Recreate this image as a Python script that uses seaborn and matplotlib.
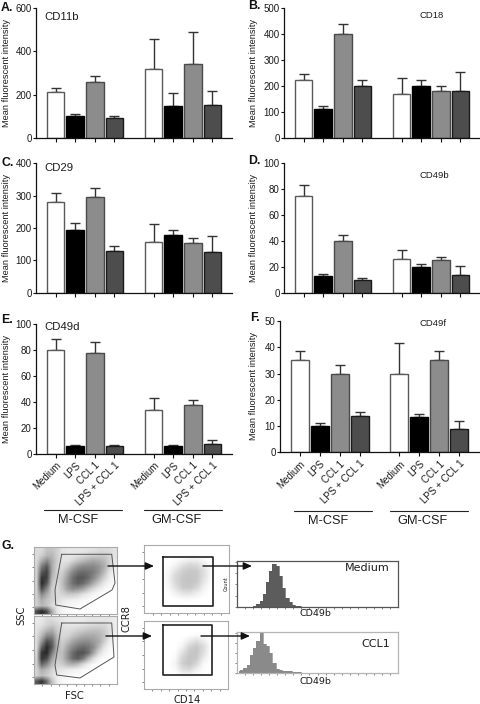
import numpy as np
import pandas as pd
import matplotlib
matplotlib.use("Agg")
import matplotlib.pyplot as plt
from matplotlib.colors import LinearSegmentedColormap
import seaborn as sns

sns.set_style("ticks")
plt.rcParams['font.family'] = ['Liberation Sans', 'DejaVu Sans']

# ---------- data ----------
treatments = ["Medium", "LPS", "CCL 1", "LPS + CCL 1"]
positions = [0, 1, 2, 3, 5, 6, 7, 8]
cd11b_mean = [210, 100, 260, 90, 320, 145, 343, 150]
cd11b_top = [232, 112, 287, 100, 458, 207, 490, 218]
cd18_mean = [222, 110, 400, 200, 167, 200, 180, 180]
cd18_top = [245, 122, 440, 222, 230, 222, 200, 252]
cd29_mean = [280, 195, 295, 130, 158, 177, 155, 125]
cd29_top = [308, 215, 325, 143, 213, 193, 170, 174]
cd49b_mean = [75, 13, 40, 10, 26, 20, 25, 14]
cd49b_top = [83, 14.5, 44.5, 11, 33, 22.3, 27.5, 21]
cd49d_mean = [80, 6, 78, 6, 34, 6.5, 38, 7.5]
cd49d_top = [88.5, 6.8, 86, 6.8, 43.5, 6.8, 42, 11]
cd49f_mean = [35, 10, 30, 14, 29.7, 13.3, 35, 9]
cd49f_top = [38.7, 11, 33.2, 15.5, 41.8, 14.4, 38.7, 12]

fsc_ssc_medium = [
 [.15,.15,.25,.25,.20,.12,.10,.10,.10,.10,.12,.12,.15,.15,.15,.12],
 [.15,.20,.30,.30,.20,.12,.10,.10,.12,.15,.18,.20,.22,.22,.18,.12],
 [.15,.35,.50,.35,.20,.12,.12,.18,.25,.30,.35,.38,.35,.30,.20,.10],
 [.18,.55,.70,.35,.18,.15,.22,.35,.45,.50,.50,.50,.45,.35,.20,.08],
 [.20,.70,.80,.35,.18,.20,.35,.50,.60,.62,.60,.55,.45,.30,.12,.05],
 [.20,.85,.80,.30,.18,.25,.42,.60,.70,.70,.62,.50,.35,.20,.08,.03],
 [.20,.90,.70,.25,.15,.28,.45,.60,.68,.62,.50,.35,.22,.10,.04,.02],
 [.20,.75,.50,.20,.15,.25,.40,.48,.45,.38,.25,.15,.08,.04,.02,.01],
 [.20,.50,.35,.20,.15,.18,.22,.22,.18,.12,.08,.04,.02,.01,.00,.00],
 [.20,.35,.25,.20,.15,.10,.08,.06,.05,.03,.02,.01,.00,.00,.00,.00],
 [.20,.30,.25,.15,.10,.06,.04,.03,.02,.01,.00,.00,.00,.00,.00,.00],
 [.75,.90,.75,.35,.10,.04,.02,.01,.00,.00,.00,.00,.00,.00,.00,.00]]
fsc_ssc_ccl1 = [
 [.08,.10,.15,.15,.12,.10,.08,.08,.08,.08,.10,.10,.10,.10,.10,.08],
 [.10,.12,.18,.22,.18,.12,.10,.10,.10,.12,.14,.15,.16,.16,.12,.08],
 [.12,.20,.30,.35,.22,.15,.14,.16,.20,.22,.25,.26,.26,.22,.15,.08],
 [.14,.30,.50,.50,.28,.16,.18,.25,.30,.35,.36,.36,.32,.25,.14,.05],
 [.15,.45,.75,.65,.30,.20,.28,.38,.45,.48,.48,.42,.36,.22,.08,.03],
 [.15,.65,.90,.70,.30,.24,.38,.50,.58,.62,.58,.48,.30,.12,.04,.02],
 [.18,.85,.90,.55,.26,.28,.45,.62,.72,.72,.62,.38,.16,.06,.02,.01],
 [.20,.85,.75,.40,.22,.28,.45,.62,.68,.55,.32,.14,.05,.02,.01,.00],
 [.20,.65,.50,.28,.18,.22,.30,.34,.28,.16,.07,.03,.01,.00,.00,.00],
 [.18,.35,.28,.18,.12,.10,.08,.06,.05,.03,.01,.00,.00,.00,.00,.00],
 [.18,.28,.22,.14,.08,.05,.03,.02,.01,.00,.00,.00,.00,.00,.00,.00],
 [.70,.85,.60,.25,.08,.03,.02,.01,.00,.00,.00,.00,.00,.00,.00,.00]]
ccr8_medium = [
 [0,0,0,0,0,0,0,0,0,0,0,0],
 [0,0,0,0,0,0,0,0,0,0,0,0],
 [0,0,0,0,.01,.03,.05,.05,.02,0,0,0],
 [0,0,0,.01,.05,.12,.17,.15,.08,.01,0,0],
 [0,0,0,.03,.12,.20,.23,.22,.13,.02,0,0],
 [0,0,0,.05,.17,.23,.25,.23,.13,.02,0,0],
 [0,0,0,.05,.17,.24,.25,.22,.10,.01,0,0],
 [0,0,0,.03,.13,.22,.23,.17,.05,0,0,0],
 [0,0,0,.01,.06,.12,.12,.07,.02,0,0,0],
 [0,0,0,0,.01,.02,.02,.01,0,0,0,0],
 [0,0,0,0,0,0,0,0,0,0,0,0],
 [0,0,0,0,0,0,0,0,0,0,0,0]]
ccr8_ccl1 = [
 [0,0,0,0,0,0,0,0,0,0,0,0],
 [0,0,0,0,0,0,0,0,0,0,0,0],
 [0,0,0,0,0,0,.01,.02,.01,0,0,0],
 [0,0,0,0,0,.01,.08,.14,.08,.01,0,0],
 [0,0,0,0,0,.05,.18,.23,.15,.02,0,0],
 [0,0,0,0,.01,.12,.23,.25,.14,.01,0,0],
 [0,0,0,0,.03,.18,.25,.23,.09,0,0,0],
 [0,0,0,0,.05,.20,.25,.17,.03,0,0,0],
 [0,0,0,0,.03,.14,.17,.07,.01,0,0,0],
 [0,0,0,0,0,.03,.03,.01,0,0,0,0],
 [0,0,0,0,0,0,0,0,0,0,0,0],
 [0,0,0,0,0,0,0,0,0,0,0,0]]
hist_bins = [i * 0.02 + 0.01 for i in range(26)]
hist_medium = [0, 0, 0, .005, .01, .03, .06, .13, .29, .55, .80, .95, .90, .68, .43, .20, .10, .05, .03, .02, .01, .005, 0, 0, 0, 0]
hist_ccl1 = [.04, .08, .12, .20, .45, .62, .80, 1.0, .72, .68, .50, .25, .11, .08, .05, .045, .04, .03, .02, .015, .01, .01, .01, .005, .005, .005]

bar_colors = ["#ffffff", "#000000", "#8c8c8c", "#4d4d4d"]
edge_colors = ["#5a5a5a", "#000000", "#4a4a4a", "#1a1a1a"]
cmap_dots = LinearSegmentedColormap.from_list("dots", ["#ffffff", "#111111"])

# ---------- layout helpers ----------
W, H = 480, 704
fig = plt.figure(figsize=(W / 100, H / 100), dpi=100)
TXT = "#1c1c1c"


def axes_px(x0, y0, x1, y1):
    """Axes from pixel box (y measured from the top)."""
    return fig.add_axes([x0 / W, 1 - y1 / H, (x1 - x0) / W, (y1 - y0) / H])


def bar_panel(box, mean, top, ymax, step, show_x=False):
    ax = axes_px(*box)
    df = pd.DataFrame({"pos": positions, "val": mean,
                       "t": [0, 1, 2, 3, 0, 1, 2, 3]})
    sns.barplot(data=df, x="pos", y="val", hue="t", palette=bar_colors, dodge=False,
                native_scale=True, saturation=1, width=0.9, linewidth=1.0,
                ax=ax, errorbar=None, legend=False, zorder=2)
    for c, ec in zip(ax.containers, edge_colors):
        for b in c:
            b.set_edgecolor(ec)
    for p, m, tp in zip(positions, mean, top):
        ax.errorbar([p], [m], yerr=[[0], [tp - m]], color="#333333", elinewidth=1.0,
                    capsize=3.3, capthick=1.0, zorder=1)
    ax.set_xlim(-1, 9)
    ax.set_ylim(0, ymax)
    ax.set_yticks(np.arange(0, ymax + 0.01, step))
    ax.set_xticks(positions)
    ax.set_xlabel("")
    ax.set_ylabel("")
    ax.tick_params(axis="y", length=2.4, width=0.8, labelsize=7, pad=0.8, labelcolor=TXT, color="#111111")
    ax.tick_params(axis="x", length=2.6, width=0.8, color="#111111", pad=2)
    if show_x:
        ax.set_xticklabels(treatments * 2, rotation=45, ha="right", rotation_mode="anchor",
                           fontsize=7, color=TXT)
    else:
        ax.set_xticklabels([])
    for s in ("top", "right"):
        ax.spines[s].set_visible(False)
    for s in ("left", "bottom"):
        ax.spines[s].set_linewidth(0.9)
        ax.spines[s].set_color("#111111")
    return ax


bar_panel((36, 8.3, 232, 137.7), cd11b_mean, cd11b_top, 600, 200)
bar_panel((284, 8.3, 480, 137.7), cd18_mean, cd18_top, 500, 100)
bar_panel((36, 163.3, 232, 292.7), cd29_mean, cd29_top, 400, 100)
bar_panel((284, 163.3, 480, 292.7), cd49b_mean, cd49b_top, 100, 20)
bar_panel((36, 324.3, 232, 454), cd49d_mean, cd49d_top, 100, 20, show_x=True)
bar_panel((280, 321, 479, 452.3), cd49f_mean, cd49f_top, 50, 10, show_x=True)


def density(box, grid):
    ax = axes_px(*box)
    ax.imshow(grid, cmap=cmap_dots, vmin=0, vmax=1, aspect="auto",
              interpolation="bilinear", extent=(0, 1, 0, 1), zorder=0)
    ax.set_xticks(np.arange(0.1, 1, 0.1))
    ax.set_yticks(np.arange(0.1, 1, 0.2))
    ax.set_xticklabels([])
    ax.set_yticklabels([])
    ax.tick_params(length=1.5, width=0.5, color="#555555")
    for s in ax.spines.values():
        s.set_linewidth(0.8)
        s.set_color("#aaaaaa")
    return ax


density((34, 547, 117, 614), fsc_ssc_medium)
density((34, 616, 117, 684), fsc_ssc_ccl1)
density((144, 545, 229, 613), ccr8_medium)
density((144, 621, 228, 689), ccr8_ccl1)


def hist(box, vals, fill, frame):
    ax = axes_px(*box)
    hd = pd.DataFrame({"x": hist_bins, "y": vals})
    ax.fill_between(hd.x, hd.y, step="mid", color=fill, lw=0)
    sns.lineplot(data=hd, x="x", y="y", drawstyle="steps-mid", color=fill, lw=0.5, ax=ax)
    ax.set_xlim(0, 1)
    ax.set_ylim(0, 1.02)
    ax.set_xlabel("")
    ax.set_ylabel("")
    ax.set_xticks(np.arange(0.05, 1, 0.05))
    ax.set_yticks(np.arange(0, 1.01, 0.25))
    ax.set_xticklabels([])
    ax.set_yticklabels([])
    ax.tick_params(length=1.5, width=0.5, color="#555555")
    for s in ax.spines.values():
        s.set_linewidth(0.9)
        s.set_color(frame)
    return ax


hist((237, 561, 398, 607), hist_medium, "#5c5c5c", "#555555")
hist((237, 632, 398, 673), hist_ccl1, "#8a8a8a", "#b5b5b5")

# ---------- overlay in pixel coordinates ----------
ov = fig.add_axes([0, 0, 1, 1], zorder=20)
ov.set_xlim(0, W)
ov.set_ylim(H, 0)
ov.axis("off")
ov.patch.set_alpha(0)


def t(x, y, s, size, ha="left", va="center", **kw):
    kw.setdefault("color", TXT)
    ov.text(x, y, s, fontsize=size, ha=ha, va=va, **kw)


for x, y, s in [(1, 8, "A."), (248, 6, "B."), (1, 163, "C."), (248, 161, "D."), (1, 320, "E."),
                (250, 318, "F."), (1, 546, "G.")]:
    t(x, y, s, 8.8, fontweight="bold", color="#111111")

for x, y in [(7, 73), (254, 73), (7, 228), (254, 228), (7, 389), (254, 386)]:
    t(x, y, "Mean fluorescent intensity", 6.7, ha="center", rotation=90)

for x, y, s, size in [(44, 17, "CD11b", 8.2), (419, 15, "CD18", 6.8), (44, 168, "CD29", 8.2),
                      (419, 176, "CD49b", 6.8), (44, 327, "CD49d", 8.2), (419, 323, "CD49f", 6.8)]:
    t(x, y, s, size)

for x0, x1, xc, y, s in [(44, 122, 78, 510, "M-CSF"), (144, 222, 177, 510, "GM-CSF"),
                         (294, 372, 328, 511, "M-CSF"), (390, 468, 423, 511, "GM-CSF")]:
    ov.plot([x0, x1], [y, y], color="#222222", lw=0.8)
    t(xc, y + 10, s, 9.2, ha="center")

# gates
gate_top = ([61.7, 111.7, 115, 112, 80, 55.7, 55, 61.7], [554.3, 554.3, 583, 590, 609, 605, 590, 554.3])
gate_bot = ([61.7, 111.7, 114, 80, 56.7, 55, 61.7], [623, 623, 657, 678, 675, 665, 623])
for gx, gy in (gate_top, gate_bot):
    ov.plot(gx, gy, color="#555555", lw=0.7)
for x0, y0, x1, y1 in [(163, 557, 213, 606), (163, 625, 212, 675)]:
    ov.plot([x0, x1, x1, x0, x0], [y0, y0, y1, y1, y0], color="#222222", lw=1.2)

# arrows
for x0, x1, y in [(108, 154, 566), (106, 152, 636), (203, 252, 566), (201, 250, 636)]:
    ov.annotate("", xy=(x1, y), xytext=(x0, y),
                arrowprops=dict(arrowstyle="-|>,head_length=0.5,head_width=0.22", color="#111111",
                                lw=1.0, shrinkA=0, shrinkB=0))

font_flow = ["DejaVu Sans"]
t(21, 615, "SSC", 7.2, ha="center", rotation=90, family=font_flow)
t(74, 696, "FSC", 7.2, ha="center", family=font_flow)
t(126, 619, "CCR8", 7.2, ha="center", rotation=90, family=font_flow)
t(187, 700, "CD14", 7.2, ha="center", family=font_flow)
t(315, 614, "CD49b", 6.8, ha="center", family=font_flow)
t(315, 682, "CD49b", 6.8, ha="center", family=font_flow)
t(390, 568, "Medium", 8, ha="right", family=font_flow)
t(390, 644, "CCL1", 8, ha="right", family=font_flow)
t(226, 584, "Count", 3.6, ha="center", rotation=90, family=font_flow)

fig.savefig("out.png", dpi=100)
